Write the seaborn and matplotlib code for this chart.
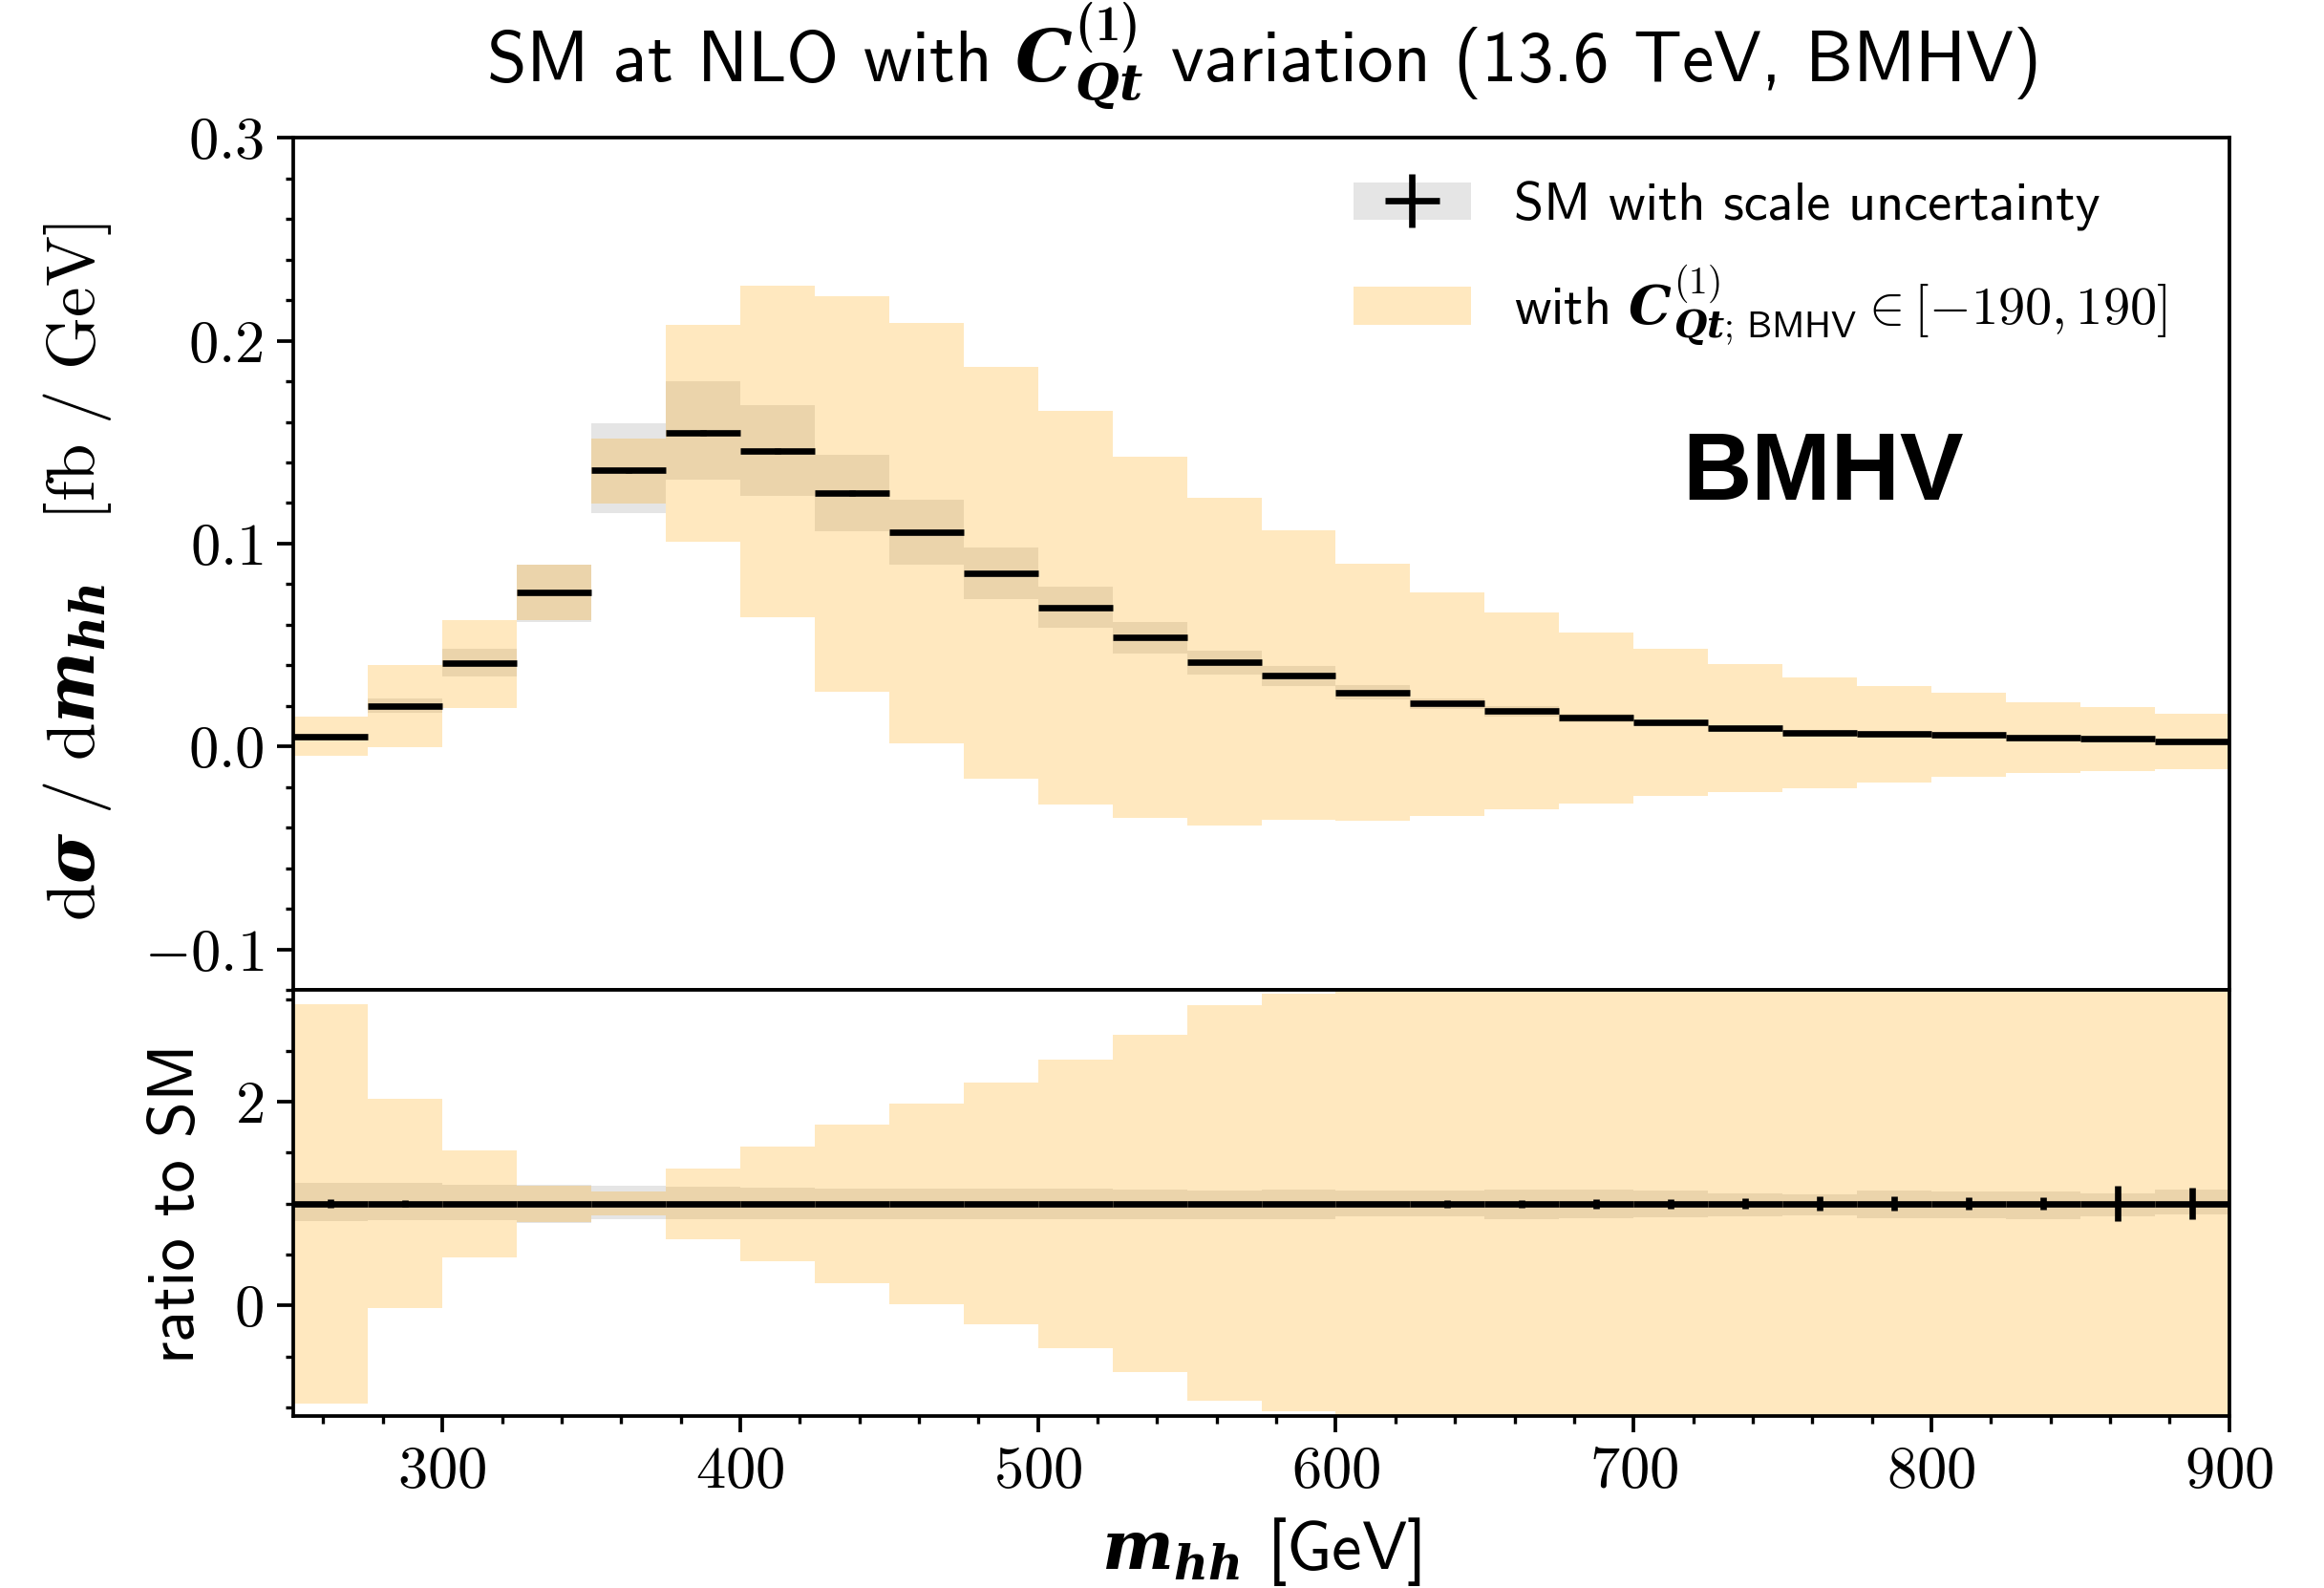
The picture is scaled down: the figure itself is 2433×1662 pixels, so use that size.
import numpy as np
import matplotlib
matplotlib.use("Agg")
import matplotlib.pyplot as plt
import seaborn as sns
from matplotlib.patches import Patch
from matplotlib.ticker import MultipleLocator, FuncFormatter

# === 0. Data ===
bin_lo = np.array([250, 275, 300, 325, 350, 375, 400, 425, 450, 475, 500, 525, 550,
                   575, 600, 625, 650, 675, 700, 725, 750, 775, 800, 825, 850, 875])
bin_width = 25

# SM central value, dsigma/dm_hh [fb/GeV]
sm_central = np.array([0.0049, 0.0197, 0.0410, 0.0759, 0.1360, 0.1547, 0.1455, 0.1250,
                       0.1056, 0.0856, 0.0686, 0.0537, 0.0416, 0.0348, 0.0267, 0.0211,
                       0.0174, 0.0141, 0.0119, 0.0089, 0.0069, 0.0061, 0.0056, 0.0044,
                       0.0038, 0.0025])

# relative scale uncertainty (up / down)
scale_up = np.array([0.20, 0.20, 0.18, 0.18, 0.17, 0.165, 0.155, 0.15, 0.15, 0.145,
                     0.145, 0.14, 0.13, 0.14, 0.13, 0.13, 0.14, 0.135, 0.125, 0.10,
                     0.09, 0.13, 0.12, 0.115, 0.10, 0.135])
scale_dn = np.array([0.17, 0.165, 0.16, 0.19, 0.155, 0.15, 0.15, 0.15, 0.15, 0.15,
                     0.15, 0.15, 0.15, 0.15, 0.13, 0.125, 0.15, 0.145, 0.135, 0.13,
                     0.12, 0.14, 0.14, 0.15, 0.125, 0.11])

# relative MC (statistical) error
stat_rel = np.array([0.04, 0.035, 0.01, 0.01, 0.01, 0.01, 0.01, 0.01, 0.01, 0.01,
                     0.01, 0.01, 0.01, 0.01, 0.015, 0.037, 0.037, 0.047, 0.047, 0.053,
                     0.069, 0.072, 0.060, 0.063, 0.172, 0.157])

# envelope for C_Qt^(1) in [-190, 190]
c_hi = np.array([0.0145, 0.0400, 0.0624, 0.0894, 0.1520, 0.2076, 0.2273, 0.2220,
                 0.2087, 0.1870, 0.1655, 0.1428, 0.1226, 0.1064, 0.0899, 0.0759,
                 0.0659, 0.0561, 0.0484, 0.0404, 0.0342, 0.0300, 0.0263, 0.0220,
                 0.0194, 0.0163])
c_lo = np.array([-0.0047, -0.0005, 0.0192, 0.0624, 0.1196, 0.1010, 0.0637, 0.0270,
                 0.0016, -0.0160, -0.0286, -0.0350, -0.0389, -0.0362, -0.0364, -0.0343,
                 -0.0309, -0.0279, -0.0243, -0.0226, -0.0204, -0.0179, -0.0149, -0.0132,
                 -0.0119, -0.0111])

# === 1. Style ===
sns.set_style("ticks")
plt.rcParams["font.family"] = "cmss10"
plt.rcParams["mathtext.fontset"] = "custom"
plt.rcParams["mathtext.rm"] = "cmr10"
plt.rcParams["mathtext.it"] = "cmmi10"
plt.rcParams["mathtext.bf"] = "cmb10"
plt.rcParams["mathtext.sf"] = "cmss10"
plt.rcParams["mathtext.bfit"] = "DejaVu Serif:italic:bold"
plt.rcParams["mathtext.fallback"] = "cm"
plt.rcParams["axes.formatter.use_mathtext"] = True
plt.rcParams["axes.linewidth"] = 0.9
plt.rcParams["axes.edgecolor"] = "black"
plt.rcParams["text.color"] = "black"
plt.rcParams["axes.labelcolor"] = "black"
for ax_ in ("xtick", "ytick"):
    plt.rcParams[f"{ax_}.major.size"] = 4
    plt.rcParams[f"{ax_}.minor.size"] = 2
    plt.rcParams[f"{ax_}.major.width"] = 0.9
    plt.rcParams[f"{ax_}.minor.width"] = 0.8
    plt.rcParams[f"{ax_}.color"] = "black"
    plt.rcParams[f"{ax_}.labelcolor"] = "black"

centers = bin_lo + bin_width / 2
ORANGE = "orange"
GRAY = "gray"

fig, (ax, rax) = plt.subplots(2, 1, sharex=True, figsize=(8.11, 5.54), dpi=300,
                              gridspec_kw=dict(height_ratios=[2, 1], hspace=0))
fig.subplots_adjust(left=0.1263, right=0.9592, top=0.9132, bottom=0.1083)

# === 2. Main panel ===
sc_hi = sm_central * (1 + scale_up)
sc_lo = sm_central * (1 - scale_dn)
ax.bar(centers, sc_hi - sc_lo, bottom=sc_lo, width=bin_width, color=GRAY, alpha=0.2, lw=0)
ax.bar(centers, c_hi - c_lo, bottom=c_lo, width=bin_width, color=ORANGE, alpha=0.25, lw=0)
eb = ax.errorbar(centers, sm_central, xerr=bin_width / 2, yerr=sm_central * stat_rel,
                 fmt="none", ecolor="black", elinewidth=1.6)

ax.set_xlim(250, 900)
ax.set_ylim(-0.12, 0.3)
ax.yaxis.set_major_locator(MultipleLocator(0.1))
ax.yaxis.set_minor_locator(MultipleLocator(0.02))
ax.yaxis.set_major_formatter(FuncFormatter(lambda v, p: f"${v:.1f}$"))
ax.tick_params(axis="x", which="both", bottom=False, labelbottom=False)
ax.tick_params(axis="y", labelsize=15)

ax.set_ylabel(r"$\mathrm{d}\mathbfit{\sigma}\ /\ \mathrm{d}\mathbfit{m_{hh}}\quad[\mathrm{fb}\ /\ \mathrm{GeV}]$",
              fontsize=17)
ax.yaxis.set_label_coords(-0.093, 0.49)

ax.set_title(r"SM at NLO with $\mathbfit{C}^{\mathbf{(1)}}_{\mathbfit{Qt}}$ variation (13.6 TeV, BMHV)",
             fontsize=18, pad=14)

ax.text(0.79, 0.605, "BMHV", transform=ax.transAxes, ha="center", va="center",
        fontsize=24, fontweight="bold", family="Liberation Sans", color="black")

gray_patch = Patch(facecolor=GRAY, alpha=0.2, lw=0)
orange_patch = Patch(facecolor=ORANGE, alpha=0.25, lw=0)
ax.legend([(gray_patch, eb), orange_patch],
          ["SM with scale uncertainty",
           r"with $\mathbfit{C}^{(1)}_{\mathbfit{Qt};\,\mathsf{BMHV}} \in [-190, 190]$"],
          loc="upper right", frameon=False, fontsize=13.5, handlelength=2.2,
          labelspacing=0.6, borderaxespad=0.4, bbox_to_anchor=(0.99, 1.0))

# === 3. Ratio panel ===
rax.bar(centers, scale_up + scale_dn, bottom=1 - scale_dn, width=bin_width,
        color=GRAY, alpha=0.2, lw=0)
rax.bar(centers, (c_hi - c_lo) / sm_central, bottom=c_lo / sm_central, width=bin_width,
        color=ORANGE, alpha=0.25, lw=0)
rax.errorbar(centers, np.ones_like(sm_central), xerr=bin_width / 2, yerr=stat_rel,
             fmt="none", ecolor="black", elinewidth=1.6)

rax.set_ylim(-1.085, 3.095)
rax.yaxis.set_major_locator(MultipleLocator(2))
rax.yaxis.set_minor_locator(MultipleLocator(0.5))
rax.yaxis.set_major_formatter(FuncFormatter(lambda v, p: f"${v:.0f}$"))
rax.xaxis.set_major_locator(MultipleLocator(100))
rax.xaxis.set_minor_locator(MultipleLocator(20))
rax.xaxis.set_major_formatter(FuncFormatter(lambda v, p: f"${v:.0f}$"))
rax.tick_params(labelsize=15)
rax.set_ylabel("ratio to SM", fontsize=16.5)
rax.yaxis.set_label_coords(-0.045, 0.5)
rax.set_xlabel(r"$\mathbfit{m_{hh}}$ [GeV]", fontsize=17)

for a in (ax, rax):
    for s in a.spines.values():
        s.set_visible(True)

fig.savefig("out.png", dpi=300)
